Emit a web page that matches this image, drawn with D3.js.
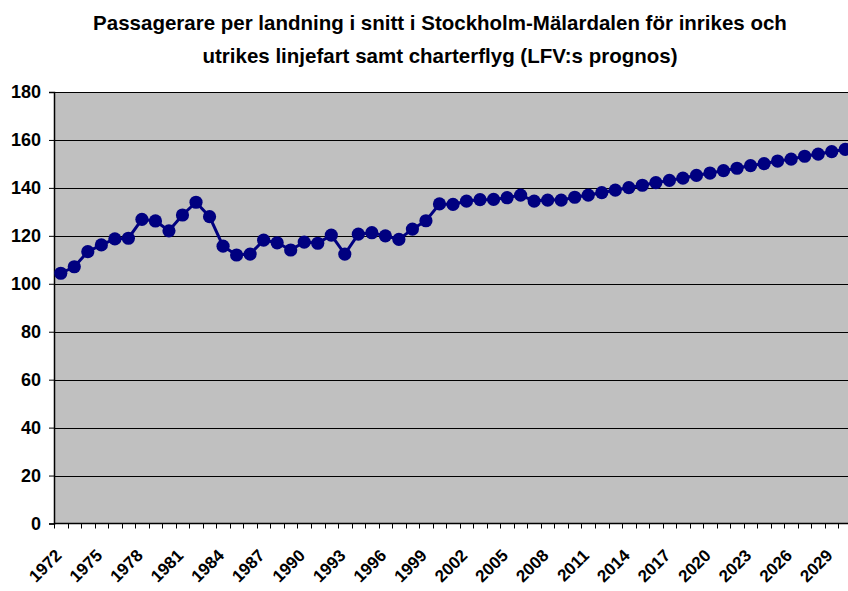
<!DOCTYPE html>
<html>
<head>
<meta charset="utf-8">
<script src="https://cdn.jsdelivr.net/npm/d3@7"></script>
<style>
  body { margin: 0; background: #fff; }
  text { font-family: "Liberation Sans", Arial, sans-serif; font-weight: bold; }
</style>
</head>
<body>
<svg id="chart" width="848" height="591"></svg>
<script>
// years 1972..2030, one category per year
let years = d3.range(1972, 2031);
let passengers = [
  104.4, 107.1, 113.4, 116.2, 118.7, 119.0, 126.9, 126.2, 122.1, 128.7,
  134.0, 128.0, 115.7, 112.0, 112.4, 118.2, 117.1, 114.1, 117.4, 116.9,
  120.3, 112.4, 120.7, 121.3, 120.0, 118.5, 122.8, 126.3, 133.3, 133.1,
  134.5, 135.1, 135.2, 135.9, 137.0, 134.5, 134.9, 134.9, 136.1, 137.0,
  138.0, 139.1, 140.1, 141.1, 142.2, 143.1, 144.1, 145.2, 146.2, 147.2,
  148.2, 149.3, 150.1, 151.2, 152.0, 153.2, 154.1, 155.1, 156.1
];
let yTicks = [0, 20, 40, 60, 80, 100, 120, 140, 160, 180];
let titleLines = [
  "Passagerare per landning i snitt i Stockholm-Mälardalen för inrikes och",
  "utrikes linjefart samt charterflyg (LFV:s prognos)"
];

let svg = d3.select("#chart");
let plot = { left: 54, right: 852, top: 92, bottom: 523.5 };

let x = d3.scaleBand()
  .domain(years)
  .range([plot.left, plot.right]);
let y = d3.scaleLinear()
  .domain([0, 180])
  .range([plot.bottom, plot.top]);

// title
svg.append("g")
  .selectAll("text")
  .data(titleLines)
  .join("text")
  .attr("x", 440)
  .attr("y", (d, i) => 30 + i * 33)
  .attr("text-anchor", "middle")
  .attr("font-size", 20.5)
  .text((d) => d);

// plot background
svg.append("rect")
  .attr("x", plot.left)
  .attr("y", plot.top)
  .attr("width", plot.right - plot.left)
  .attr("height", plot.bottom - plot.top)
  .attr("fill", "#c0c0c0");

// gridlines
svg.append("g")
  .selectAll("line")
  .data(yTicks.filter((d) => d > 0))
  .join("line")
  .attr("x1", plot.left)
  .attr("x2", plot.right)
  .attr("y1", (d) => Math.round(y(d)) + 0.5)
  .attr("y2", (d) => Math.round(y(d)) + 0.5)
  .attr("stroke", "#000")
  .attr("stroke-width", 1);

// y axis
let yAxis = svg.append("g")
  .attr("transform", `translate(${plot.left},0)`)
  .call(d3.axisLeft(y).tickValues(yTicks).tickSize(5).tickPadding(8));
yAxis.select(".domain").attr("stroke", "#000").attr("stroke-width", 1.5);
yAxis.selectAll("text").attr("font-size", 18).attr("fill", "#000")
  .attr("font-family", null);

// x axis: ticks between categories
let xAxisG = svg.append("g");
xAxisG.append("line")
  .attr("x1", plot.left)
  .attr("x2", plot.right)
  .attr("y1", plot.bottom)
  .attr("y2", plot.bottom)
  .attr("stroke", "#000")
  .attr("stroke-width", 1.5);
xAxisG.selectAll("line.tick")
  .data(years)
  .join("line")
  .attr("class", "tick")
  .attr("x1", (d) => Math.round(x(d)) + 0.5)
  .attr("x2", (d) => Math.round(x(d)) + 0.5)
  .attr("y1", plot.bottom)
  .attr("y2", plot.bottom + 5)
  .attr("stroke", "#000");
// labels kept inside the frame (reference crops them at the bottom edge)
xAxisG.selectAll("text")
  .data(years.filter((d) => (d - 1972) % 3 == 0))
  .join("text")
  .attr("text-anchor", "end")
  .attr("font-size", 17)
  .attr("transform", (d) => {
    let cx = x(d) + x.bandwidth() / 2 + 2;
    return `translate(${cx},${plot.bottom + 33}) rotate(-45)`;
  })
  .text((d) => d);

// series
let pts = years.map((yr, i) => [x(yr) + x.bandwidth() / 2, y(passengers[i])]);
svg.append("path")
  .attr("d", d3.line()(pts))
  .attr("fill", "none")
  .attr("stroke", "#000080")
  .attr("stroke-width", 3);
svg.append("g")
  .selectAll("circle")
  .data(pts)
  .join("circle")
  .attr("cx", (d) => d[0])
  .attr("cy", (d) => d[1])
  .attr("r", 6.6)
  .attr("fill", "#000080");
</script>
</body>
</html>
